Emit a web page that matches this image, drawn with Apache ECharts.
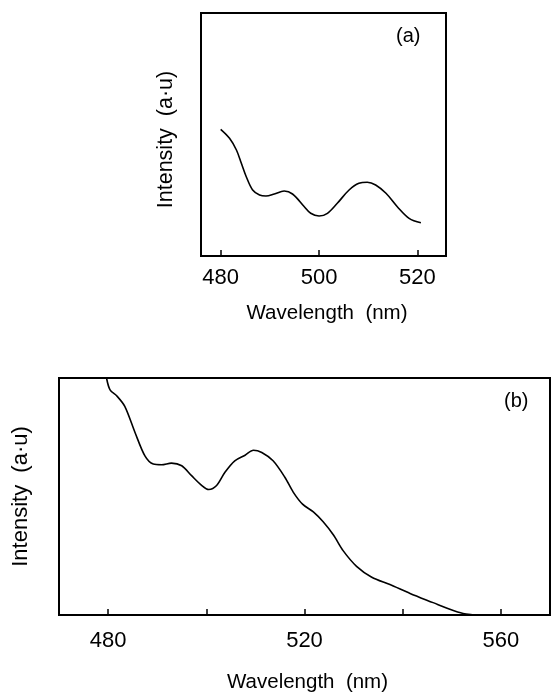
<!DOCTYPE html>
<html>
<head>
<meta charset="utf-8">
<script src="https://cdn.jsdelivr.net/npm/echarts@6/dist/echarts.min.js"></script>
<style>
html,body{margin:0;padding:0;background:#fff;}
#c{width:551px;height:694px;}
</style>
</head>
<body>
<div id="c"></div>
<script>
// Panel (a) spectrum: wavelength (nm) and intensity (a.u.)
var wlA = [480, 481.8, 483.2, 484.2, 485.2, 486.5, 487.9, 489.2, 490.9, 492.9, 494.6, 497, 498.3, 500, 501.7, 503.7, 506.1, 508.1, 509.8, 511.5, 513.6, 515.9, 518.3, 520.7];
var intA = [126.7, 117.7, 106, 92.7, 79.3, 66, 61, 60, 62, 65, 62, 49.3, 42.7, 40, 42.7, 52.7, 66, 72.7, 73.7, 71, 62.7, 49.3, 37.7, 33.3];

// Panel (b) spectrum
var wlB = [479.5, 479.7, 480.4, 481.75, 483.4, 485.5, 487.5, 489.2, 490.9, 492.9, 495, 497, 499.1, 500.5, 502.1, 503.8, 505.8, 507.9, 509.6, 511.3, 513.6, 516, 517.7, 519.6, 521.8, 523.8, 525.9, 527.9, 530.6, 533.7, 537.4, 541.5, 546.2, 549.6, 552.3, 554.4, 555];
var intB = [250, 239, 227.5, 221.5, 210.8, 184.2, 160.8, 152.5, 151.8, 153.5, 150.8, 140.8, 130.8, 126.8, 130.8, 144.2, 155.8, 161.5, 166.5, 164.2, 155.8, 139.2, 124.2, 112, 104.2, 94.2, 80.8, 64.8, 49.2, 38.2, 30.8, 21.8, 12.5, 5.8, 1.5, 0.2, 0];

// Tick positions and labels
var ticksA = [480, 500, 520];
var labelsA = [480, 500, 520];
var ticksB = [480, 500, 520, 540, 560];
var labelsB = [480, 520, 560];

var xName = 'Wavelength  (nm)';
var yName = 'Intensity  (a·u)';

function pairs(xs, ys) { return xs.map(function (x, i) { return [x, ys[i]]; }); }

var FONT = 'Liberation Sans';
var chart = echarts.init(document.getElementById('c'), null, {renderer: 'canvas'});
chart.setOption({
  animation: false,
  backgroundColor: '#fff',
  grid: [
    {left: 201, top: 13, width: 245, height: 243, show: true, borderColor: '#000', borderWidth: 2, backgroundColor: 'transparent'},
    {left: 59, top: 378, width: 491, height: 239.5, show: true, borderColor: '#000', borderWidth: 2, backgroundColor: 'transparent'}
  ],
  xAxis: [
    {
      gridIndex: 0, type: 'value', min: 476, max: 525.8,
      axisLine: {show: false},
      splitLine: {show: false},
      axisTick: {show: true, inside: true, length: 6, lineStyle: {color: '#000', width: 1.5}, customValues: ticksA},
      axisLabel: {show: true, margin: 11, color: '#000', fontSize: 22, fontFamily: FONT, customValues: labelsA},
      name: xName, nameLocation: 'middle', nameGap: 47,
      nameTextStyle: {color: '#000', fontSize: 20.5, fontFamily: FONT, padding: [0, 0, 0, 7]}
    },
    {
      gridIndex: 1, type: 'value', min: 470, max: 570,
      axisLine: {show: false},
      splitLine: {show: false},
      axisTick: {show: true, inside: true, length: 6, lineStyle: {color: '#000', width: 1.5}, customValues: ticksB},
      axisLabel: {show: true, margin: 15, color: '#000', fontSize: 22, fontFamily: FONT, customValues: labelsB},
      name: xName, nameLocation: 'middle', nameGap: 57,
      nameTextStyle: {color: '#000', fontSize: 20.5, fontFamily: FONT, padding: [0, 0, 0, 6]}
    }
  ],
  yAxis: [
    {
      gridIndex: 0, type: 'value', min: 0, max: 243,
      axisLine: {show: false}, axisTick: {show: false}, axisLabel: {show: false}, splitLine: {show: false},
      name: yName, nameLocation: 'middle', nameGap: 24, nameRotate: 90,
      nameTextStyle: {color: '#000', fontSize: 21.5, fontFamily: FONT, padding: [0, 10, 0, 0]}
    },
    {
      gridIndex: 1, type: 'value', min: 0, max: 239.5,
      axisLine: {show: false}, axisTick: {show: false}, axisLabel: {show: false}, splitLine: {show: false},
      name: yName, nameLocation: 'middle', nameGap: 27, nameRotate: 90,
      nameTextStyle: {color: '#000', fontSize: 22, fontFamily: FONT}
    }
  ],
  graphic: [
    {type: 'text', left: 396, top: 26, style: {text: '(a)', fill: '#000', font: '20px "' + FONT + '"'}},
    {type: 'text', left: 504, top: 391, style: {text: '(b)', fill: '#000', font: '20px "' + FONT + '"'}}
  ],
  series: [
    {
      type: 'line', xAxisIndex: 0, yAxisIndex: 0, data: pairs(wlA, intA),
      smooth: 0.35, showSymbol: false, symbol: 'none', clip: true,
      lineStyle: {color: '#000', width: 1.6}
    },
    {
      type: 'line', xAxisIndex: 1, yAxisIndex: 1, data: pairs(wlB, intB),
      smooth: 0.3, showSymbol: false, symbol: 'none', clip: true,
      lineStyle: {color: '#000', width: 1.6}
    }
  ]
});
</script>
</body>
</html>
